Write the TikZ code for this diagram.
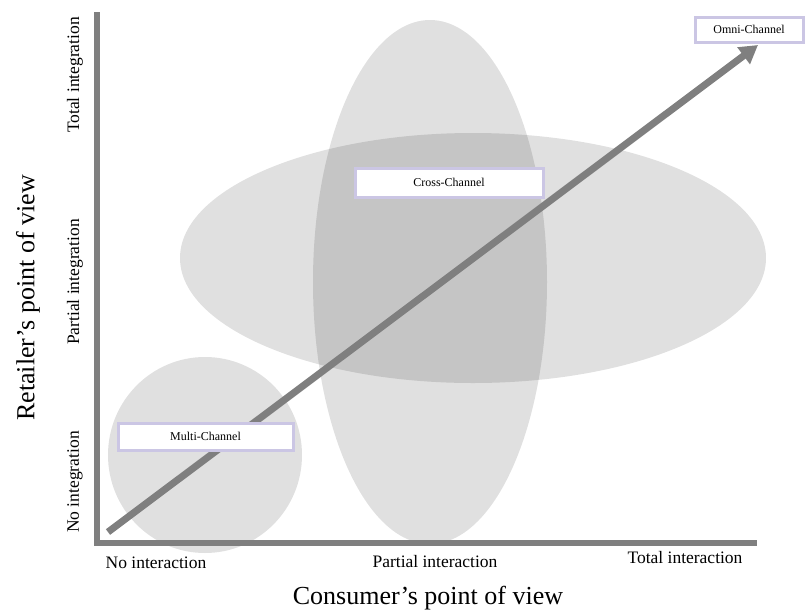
\documentclass[tikz,border=0pt]{standalone}
\usepackage{fontspec}
\setmainfont{Liberation Serif}
\usetikzlibrary{arrows.meta}
\definecolor{axisgray}{HTML}{7F7F7F}
\definecolor{lav}{HTML}{CBC6E4}
\tikzset{
  zone/.style={fill=black, fill opacity=0.12, draw=none},
  chanbox/.style={draw=lav, line width=3pt, fill=white, inner sep=0pt, font=\fontsize{12}{14}\selectfont},
  axisline/.style={draw=axisgray, line width=6pt},
  ticklab/.style={font=\fontsize{17.5}{20}\selectfont, inner sep=0pt},
  axtitle/.style={font=\fontsize{26}{30}\selectfont, inner sep=0pt}
}
\begin{document}
\begin{tikzpicture}[x=1pt,y=1pt]
\useasboundingbox (0,0) rectangle (807,-614);
% zones
\fill[zone] (473,-258) ellipse [x radius=293, y radius=125];
\fill[zone] (430,-282) ellipse [x radius=117, y radius=262];
\fill[zone] (205,-455) ellipse [x radius=97, y radius=98];
% axes
\coordinate (ytop) at (97,-12);
\coordinate (origin) at (97,-543);
\coordinate (xend) at (757,-543);
\draw[axisline] (ytop) -- (97,-546);
\draw[axisline] (94,-543) -- (xend);
% arrow
\coordinate (astart) at (108,-532);
\coordinate (aend) at (758,-45);
\draw[draw=axisgray, line width=7pt, -{Triangle[length=18pt,width=20pt]}] (astart) -- (aend);
% boxes
\node[chanbox, minimum width=108pt, minimum height=25pt] (omni) at (749,-29.5) {Omni-Channel};
\node[chanbox, minimum width=188pt, minimum height=29pt] (cross) at (449,-182.5) {Cross-Channel};
\node[chanbox, minimum width=175pt, minimum height=27pt] (multi) at (205.5,-436.5) {Multi-Channel};
% tick labels
\node[ticklab] (noint) at (156,-563) {No interaction};
\node[ticklab] (partint) at (435,-562) {Partial interaction};
\node[ticklab] (totint) at (685,-558) {Total interaction};
\node[ticklab, rotate=90] (totintg) at (75,-75) {Total integration};
\node[ticklab, rotate=90] (partintg) at (75,-282) {Partial integration};
\node[ticklab, rotate=90] (nointg) at (75,-482) {No integration};
% titles
\node[axtitle] (consumer) at (428,-598) {Consumer’s point of view};
\node[axtitle, rotate=90] (retailer) at (28,-298) {Retailer’s point of view};
\end{tikzpicture}
\end{document}
